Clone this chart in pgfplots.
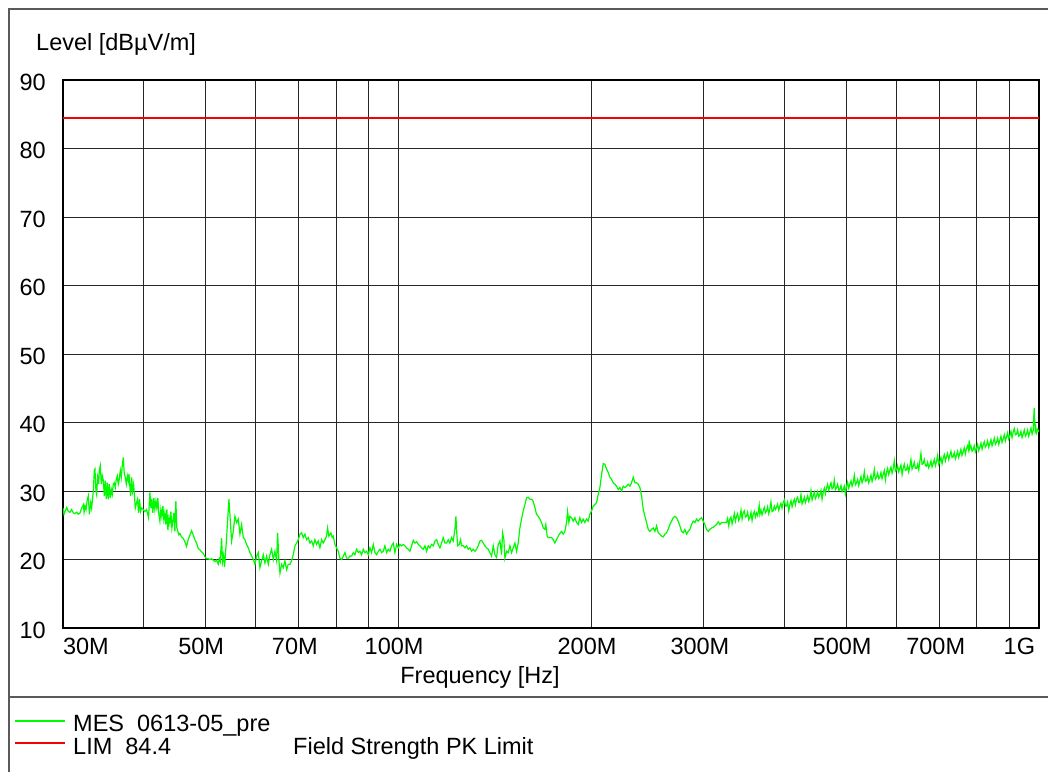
\documentclass[border=0pt]{standalone}
\usepackage{fontspec}
\setmainfont{Liberation Sans}
\usepackage{pgfplots}
\pgfplotsset{compat=1.18}
\newcommand\fs{\fontsize{23.5bp}{28bp}\selectfont}
\definecolor{tracegreen}{RGB}{0,250,0}
\definecolor{limitred}{RGB}{245,0,0}
\definecolor{framegray}{RGB}{90,90,90}
\begin{document}
\begin{tikzpicture}[x=1bp,y=1bp]
\useasboundingbox (0,0) rectangle (1048,772);
% page frame and legend separator
\draw[framegray, line width=1.3bp] (9,0) -- (9,763) -- (1048,763);
\draw[framegray, line width=1.3bp] (9,75) -- (1048,75);
\node[anchor=base west, inner sep=0pt, font=\fs] at (36,721) {Level [dBµV/m]};
\begin{axis}[
  at={(63bp,144bp)}, anchor=south west,
  scale only axis, width=976bp, height=548bp,
  xmode=log, xmin=30, xmax=1000, ymin=10, ymax=90,
  xtick={30,40,50,60,70,80,90,100,200,300,400,500,600,700,800,900,1000},
  xticklabels={\makebox[0pt][l]{\hspace{4bp}30M},,50M,,70M,,,100M,200M,300M,,500M,,700M,,,\makebox[0pt][r]{\hspace{4bp}1G}},
  ytick={10,20,30,40,50,60,70,80,90},
  yticklabels={10,20,30,40,50,60,70,80,90},
  grid=major,
  major grid style={black!85, line width=0.9bp},
  major tick length=0pt,
  axis line style={black, line width=1.2bp},
  tick label style={font=\fs},
  xticklabel style={anchor=north, inner sep=0pt, yshift=-10bp, xshift=-4bp},
  yticklabel style={anchor=east, inner sep=0pt, xshift=-17bp, yshift=-2bp},
]
% measured level, MES 0613-05_pre (frequency in MHz)
\addplot[color=tracegreen, line width=1.2bp] coordinates {
(30.00,27.5) (30.11,26.6) (30.40,27.6) (30.58,27.0) (30.76,26.9) (30.95,27.3) (31.13,26.8) (31.32,26.7)
(31.51,26.9) (31.70,26.6) (31.89,26.8) (32.08,27.5) (32.28,28.0) (32.36,26.9) (32.47,27.8) (32.59,27.3)
(32.74,28.8) (32.86,29.3) (32.98,26.6) (33.14,28.3) (33.25,27.5) (33.37,29.0) (33.45,30.0) (33.57,33.0)
(33.65,33.2) (33.77,30.0) (33.85,29.5) (33.98,32.0) (34.10,31.0) (34.18,33.0) (34.30,33.7) (34.43,31.0)
(34.55,32.2) (34.68,31.5) (34.80,29.3) (34.93,31.5) (35.05,28.8) (35.18,31.2) (35.30,28.8) (35.43,31.0)
(35.56,29.0) (35.69,30.2) (35.81,29.5) (35.94,31.0) (36.07,31.2) (36.20,30.5) (36.33,31.7) (36.46,32.2)
(36.59,31.0) (36.72,31.7) (36.86,33.0) (36.99,32.0) (37.12,33.7) (37.26,34.9) (37.39,32.5) (37.53,32.0)
(37.66,31.0) (37.80,32.2) (37.93,31.5) (38.02,32.5) (38.16,30.5) (38.25,29.3) (38.39,32.0) (38.53,30.0)
(38.67,31.0) (38.90,27.5) (39.08,28.3) (39.22,28.8) (39.36,26.8) (39.50,28.8) (39.64,27.0) (39.79,27.5)
(40.02,27.3) (40.26,27.0) (40.50,27.3) (40.79,26.1) (40.99,29.8) (41.14,27.5) (41.28,28.8) (41.43,26.8)
(41.58,29.0) (41.73,27.3) (41.88,28.5) (42.03,27.5) (42.18,29.0) (42.33,26.6) (42.49,25.6) (42.64,27.3)
(42.79,26.3) (42.95,27.8) (43.10,25.8) (43.26,26.8) (43.41,25.1) (43.57,27.3) (43.73,24.3) (43.88,26.1)
(44.04,25.3) (44.20,27.0) (44.36,24.6) (44.52,25.6) (44.68,26.8) (44.84,24.1) (45.00,28.5) (45.16,24.6)
(45.33,24.1) (45.49,23.6) (45.65,23.8) (45.93,23.3) (46.20,23.1) (46.48,22.6) (46.76,21.9) (47.04,22.9)
(47.44,23.8) (47.61,24.2) (47.89,23.6) (48.18,22.9) (48.47,22.4) (48.76,21.6) (49.06,21.4) (49.35,21.1)
(49.65,20.9) (49.95,20.4) (50.25,20.1) (50.55,20.1) (50.85,20.0) (51.16,20.1) (51.47,19.9) (51.78,19.7)
(52.09,19.9) (52.40,19.3) (52.59,20.1) (52.78,19.7) (53.03,23.1) (53.22,19.7) (53.41,20.6) (53.60,18.9)
(53.80,21.1) (53.99,23.1) (54.19,25.6) (54.45,28.8) (54.98,22.7) (55.31,24.1) (55.64,26.3) (55.98,25.4)
(56.31,25.9) (56.65,23.7) (56.99,25.1) (57.34,23.2) (57.68,22.9) (58.02,22.2) (58.37,21.7) (58.72,21.0)
(59.08,20.5) (59.43,20.0) (59.79,19.3) (60.15,20.5) (60.51,21.0) (60.87,18.8) (61.24,19.8) (61.61,20.7)
(61.97,19.5) (62.35,20.5) (62.72,19.3) (63.10,20.7) (63.48,21.5) (63.86,20.0) (64.24,21.2) (64.63,19.8)
(64.86,23.9) (65.17,19.8) (65.41,18.0) (65.80,19.3) (66.19,18.8) (66.59,19.8) (66.99,18.5) (67.39,19.3)
(67.80,19.3) (68.20,19.8) (68.61,20.7) (69.03,22.0) (69.44,22.4) (69.86,22.9) (70.28,23.7) (70.70,23.9)
(71.12,23.2) (71.55,23.7) (71.98,22.9) (72.41,23.2) (72.85,22.4) (73.29,22.7) (73.73,22.0) (74.17,22.9)
(74.61,22.2) (75.06,22.7) (75.51,21.7) (75.97,22.9) (76.42,22.4) (76.88,22.9) (77.34,23.4) (77.62,24.6)
(77.99,23.4) (78.56,23.9) (78.93,23.2) (79.22,23.4) (79.69,22.2) (80.17,21.7) (80.65,21.2) (81.14,20.2)
(81.62,20.0) (82.12,20.5) (82.61,21.0) (83.10,20.2) (83.60,20.2) (84.11,20.5) (84.61,20.5) (85.12,21.0)
(85.63,20.7) (86.14,21.5) (86.66,21.0) (87.18,21.2) (87.71,20.7) (88.23,21.5) (88.76,21.0) (89.29,21.2)
(89.83,20.7) (90.37,21.7) (90.91,21.0) (91.46,22.2) (92.01,21.0) (92.56,20.7) (93.12,21.2) (93.68,21.5)
(94.24,21.0) (94.80,21.2) (95.37,22.0) (95.95,21.0) (96.52,21.5) (97.10,21.2) (97.69,22.0) (98.27,22.4)
(98.86,21.0) (99.45,22.2) (100.05,21.7) (100.65,22.2) (101.25,22.0) (101.86,22.2) (102.47,22.0) (103.09,21.7)
(103.71,21.5) (104.33,21.2) (104.96,22.0) (105.59,22.8) (106.22,22.4) (106.86,22.6) (107.50,22.2) (108.15,22.0)
(108.79,21.7) (109.45,21.5) (110.11,22.0) (110.77,21.2) (111.43,22.0) (112.10,21.7) (112.77,22.2) (113.45,22.0)
(114.13,22.7) (114.82,22.9) (115.51,22.2) (116.20,21.7) (116.90,22.4) (117.60,23.2) (118.31,22.4) (119.02,22.4)
(119.73,22.9) (120.45,22.4) (121.17,23.2) (121.90,22.7) (122.63,24.4) (123.07,26.3) (123.37,24.4) (123.81,22.0)
(124.56,22.2) (125.15,22.9) (125.60,22.0) (126.36,22.0) (127.12,21.7) (127.88,22.0) (128.65,21.5) (129.42,21.7)
(130.20,21.2) (130.98,21.5) (131.77,21.2) (132.56,21.5) (133.35,22.0) (134.16,22.7) (134.96,22.8) (135.77,22.4)
(136.59,22.0) (137.41,21.7) (138.23,21.5) (139.06,21.0) (139.90,20.5) (140.74,22.0) (141.58,20.7) (142.43,20.3)
(143.29,22.2) (144.15,22.7) (145.01,20.7) (145.53,23.9) (146.23,22.9) (146.76,20.2) (147.64,21.2) (148.53,21.0)
(149.42,22.0) (150.32,21.0) (151.22,21.7) (152.13,22.4) (153.04,21.2) (153.96,22.4) (154.88,24.6) (155.81,25.9)
(156.75,27.1) (157.69,28.0) (158.64,29.0) (159.59,29.1) (160.55,28.8) (161.51,28.8) (162.48,28.5) (163.45,27.6)
(164.44,26.6) (165.42,26.3) (166.42,25.9) (167.41,25.4) (168.42,24.6) (169.43,24.4) (170.04,25.1) (170.86,23.4)
(171.47,23.2) (172.50,23.2) (173.54,23.2) (174.58,22.9) (175.63,22.4) (176.68,22.9) (177.74,23.4) (178.81,23.8)
(179.90,24.1) (180.98,23.7) (182.06,24.1) (183.16,25.4) (183.82,27.0) (184.70,25.4) (185.37,26.3) (186.48,26.1)
(187.60,25.6) (188.72,26.1) (189.86,25.4) (191.00,25.1) (192.14,26.1) (193.30,25.4) (194.46,25.9) (195.63,25.4)
(196.80,25.9) (197.98,25.6) (199.17,26.6) (200.37,27.1) (201.57,27.8) (202.78,28.0) (204.00,28.3) (205.22,29.5)
(206.46,30.5) (207.70,32.4) (208.94,34.0) (210.20,33.9) (211.46,33.2) (212.73,32.7) (214.01,32.0) (215.29,31.7)
(216.59,31.2) (217.89,31.0) (219.19,30.7) (220.51,30.2) (221.84,30.5) (223.17,30.0) (224.51,30.7) (225.86,30.5)
(227.21,30.7) (228.58,31.0) (229.95,30.7) (231.33,31.2) (232.72,32.0) (234.12,31.2) (235.52,31.2) (236.94,31.0)
(238.36,30.5) (239.79,29.3) (241.23,27.3) (242.68,26.3) (244.14,25.4) (245.60,24.4) (247.08,24.1) (248.56,24.4)
(250.06,24.6) (251.56,24.1) (253.07,24.9) (254.59,23.9) (256.12,23.7) (257.65,23.4) (259.20,23.3) (260.76,23.7)
(262.32,23.9) (263.90,24.4) (265.48,25.1) (267.08,25.6) (268.68,26.1) (270.30,26.3) (271.92,26.1) (273.55,25.6)
(275.19,24.9) (276.85,24.1) (278.51,23.9) (280.18,24.4) (281.87,23.7) (283.56,24.1) (285.26,24.4) (286.98,25.1)
(288.70,25.6) (290.43,25.4) (292.18,25.9) (293.93,25.6) (295.70,25.9) (297.47,26.1) (299.26,25.6) (301.06,25.1)
(302.86,24.4) (304.68,24.1) (306.51,24.4) (308.35,24.6) (310.20,24.7) (312.07,24.9) (313.94,25.1) (315.83,25.5)
(317.73,25.1) (319.63,25.4) (321.55,25.4) (323.48,25.4)
(325.42,25.4) (326.72,26.0) (328.02,24.9) (329.34,25.9) (330.66,26.2) (331.97,25.2) (333.31,25.9) (334.64,26.7)
(335.98,25.6) (337.32,26.3) (338.67,26.7) (340.02,25.7) (341.39,26.1) (342.76,27.2) (344.12,25.9) (345.50,26.8)
(346.88,27.1) (348.26,26.2) (349.66,26.3) (351.06,26.9) (352.46,25.8) (353.87,26.1) (355.29,26.9) (356.70,25.7)
(358.14,26.6) (359.57,27.0) (361.00,26.2) (362.45,26.8) (363.90,26.4) (365.94,27.9) (366.82,26.6) (368.29,27.2)
(369.76,26.5) (371.23,27.1) (372.71,27.6) (374.20,26.8) (375.71,27.1) (377.21,27.7) (378.72,26.7) (380.23,27.3)
(381.75,28.4) (383.27,27.0) (384.81,27.1) (386.35,27.8) (387.89,27.3) (389.45,27.6) (391.01,28.1) (392.57,27.2)
(394.14,27.8) (395.72,28.2) (397.30,27.5) (398.89,28.3) (400.49,28.7) (402.09,27.8) (403.69,27.8) (405.30,28.4)
(406.92,27.1) (408.55,28.0) (410.18,28.6) (411.82,27.7) (413.48,28.3) (415.13,28.8) (416.79,28.0) (418.46,28.8)
(420.13,29.1) (421.81,28.3) (423.50,28.3) (425.19,29.5) (426.89,28.1) (428.60,28.5) (430.31,29.1) (432.03,28.3)
(433.77,28.8) (435.51,29.3) (437.24,28.5) (438.99,29.0) (440.75,30.1) (442.50,28.7) (444.28,29.3) (446.06,29.8)
(447.83,28.9) (449.63,29.3) (451.43,29.9) (453.23,29.1) (455.05,29.5) (456.87,30.1) (458.69,28.8) (460.53,29.8)
(462.37,30.4) (464.21,29.6) (466.08,30.5) (467.94,31.0) (469.81,30.1) (471.69,30.7) (473.58,31.2) (475.46,30.3)
(477.37,30.5) (479.28,31.6) (481.19,30.2) (483.13,30.5) (485.06,31.0) (486.99,30.1) (488.94,30.2) (490.90,30.8)
(492.86,29.9) (494.83,30.2) (496.81,30.7) (498.79,29.6) (500.80,30.7) (502.80,31.3) (504.80,30.4) (506.83,31.0)
(508.86,31.5) (510.89,30.7) (512.94,31.2) (514.99,32.3) (517.04,30.9) (519.11,31.2) (521.19,31.7) (523.27,30.8)
(525.37,31.5) (527.47,32.1) (529.57,31.2) (531.69,31.7) (533.82,32.8) (535.94,31.4) (538.10,31.5) (540.25,32.1)
(542.40,31.2) (544.58,31.7) (546.76,32.3) (548.94,31.4) (551.14,32.0) (553.34,33.1) (555.55,31.7) (557.78,32.0)
(560.01,32.6) (562.24,31.8) (564.50,32.0) (566.76,32.7) (569.02,31.8) (571.30,32.4) (573.59,33.0) (575.87,31.6)
(578.18,32.7) (580.49,33.3) (582.80,32.4)
(585.1,33.0) (587.4,33.5) (589.8,32.6) (592.2,33.3) (594.6,34.4) (596.9,32.9) (599.3,33.1) (601.7,33.7)
(604.1,32.8) (606.5,33.3) (608.9,33.8) (611.4,32.4) (613.8,33.3) (616.3,33.9) (618.7,33.0) (621.2,33.1)
(623.7,33.7) (626.2,32.8) (628.7,33.6) (631.2,34.6) (633.7,33.2) (636.3,33.6) (638.8,34.2) (641.4,33.3)
(644.0,33.3) (646.6,33.9) (649.2,33.1) (651.7,34.3) (654.3,35.5) (656.9,33.9) (659.6,34.0) (662.2,34.6)
(664.9,33.7) (667.5,33.6) (670.2,34.2) (672.9,33.4) (675.6,33.8) (678.3,34.4) (681.0,33.5) (683.7,34.0)
(686.4,34.6) (689.2,33.7) (691.9,34.3) (694.7,35.2) (697.4,33.9) (700.3,34.3) (703.1,34.9) (705.9,34.0)
(708.7,34.8) (711.5,35.3) (714.4,34.4) (717.2,35.0) (720.1,35.5) (723.0,34.6) (725.9,35.2) (728.8,35.8)
(731.7,34.9) (734.6,35.0) (737.5,35.6) (740.5,34.7) (743.5,35.2) (746.5,35.8) (749.4,34.9) (752.4,35.5)
(755.4,36.1) (758.4,35.2) (761.5,35.7) (764.5,36.3) (767.6,35.4) (770.7,36.2) (773.8,36.6) (776.9,35.9)
(778.1,37.4) (779.9,36.2) (783.0,36.6) (786.1,35.8) (789.3,36.0) (792.5,36.6) (795.6,35.7) (798.9,36.2)
(802.1,36.8) (805.3,35.9) (808.5,36.4) (811.7,37.0) (815.0,36.1) (818.2,36.7) (821.5,37.2) (824.7,36.4)
(828.1,36.7) (831.4,37.3) (834.7,36.4) (838.0,36.9) (841.4,37.5) (844.7,36.6) (848.1,37.1) (851.5,37.7)
(854.9,36.8) (858.4,37.1) (861.8,37.7) (865.3,36.8) (868.7,37.4) (872.2,38.0) (875.7,37.1) (879.2,37.6)
(882.7,38.2) (886.2,37.3) (889.8,37.9) (893.4,38.5) (896.9,37.6) (900.5,38.1) (904.1,38.7) (907.7,37.8)
(911.3,38.6) (914.9,39.1) (918.6,38.2) (922.3,38.3) (926.0,38.9) (929.7,38.0) (933.4,38.1) (937.1,38.7)
(940.9,37.8) (944.7,38.3) (948.5,38.9) (952.2,38.0) (956.0,38.3) (959.8,38.9) (963.7,38.0) (967.6,38.6)
(971.5,39.2) (975.4,38.3) (979.2,38.8) (982.7,42.1) (986.3,38.8) (988.6,39.3) (991.0,38.5) (995.0,39.0)
(1000,38.6)
};
% limit line, LIM 84.4
\addplot[color=limitred, line width=1.8bp] coordinates {(30,84.4) (1000,84.4)};
\end{axis}
\node[anchor=base, inner sep=0pt, font=\fs] at (480,88) {Frequency [Hz]};
% legend
\fill[fill=tracegreen] (15,50.4) rectangle (65,51.6);
\node[anchor=base west, inner sep=0pt, font=\fs] at (73,40.3) {MES\ \ 0613-05\_pre};
\fill[fill=limitred] (15,28.0) rectangle (65,29.6);
\node[anchor=base west, inner sep=0pt, font=\fs] at (73,17.7) {LIM\ \ 84.4};
\node[anchor=base west, inner sep=0pt, font=\fs] at (293,17.7) {Field Strength PK Limit};
\end{tikzpicture}
\end{document}
